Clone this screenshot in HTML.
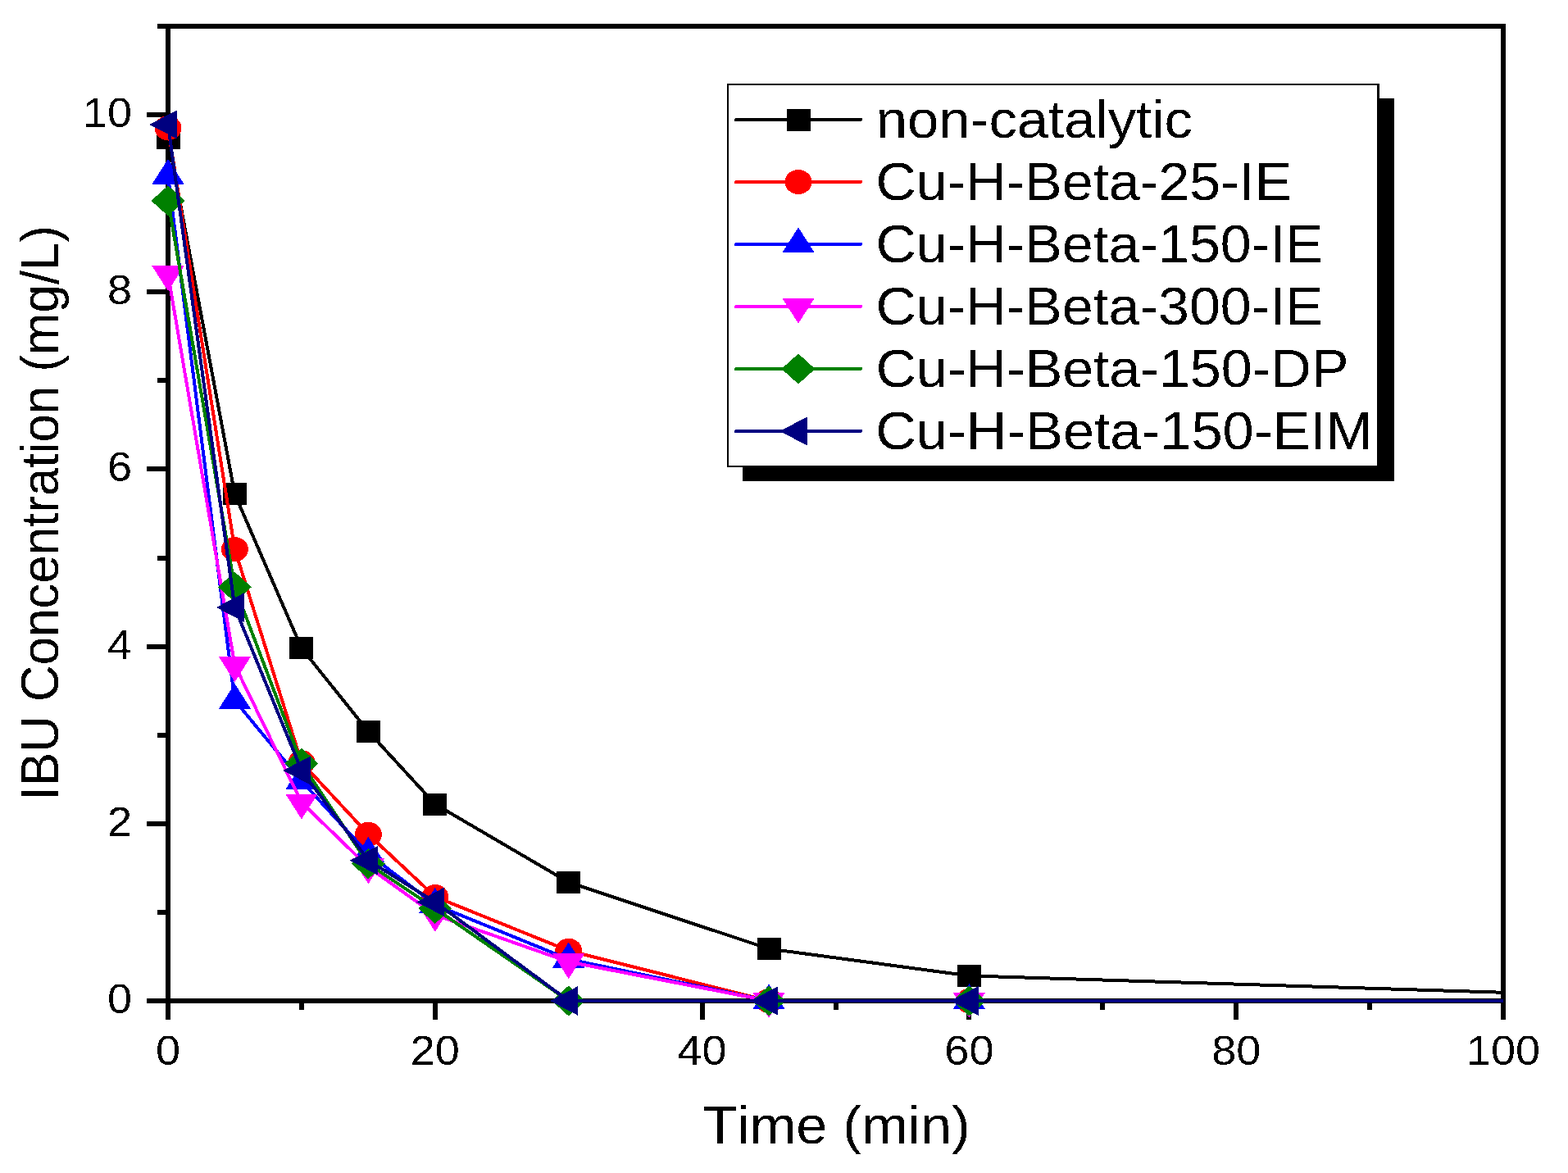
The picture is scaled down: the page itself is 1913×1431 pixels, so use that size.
<!DOCTYPE html><html><head><meta charset="utf-8"><title>IBU Concentration vs Time</title>
<style>html,body{margin:0;padding:0;background:#fff;overflow:hidden}svg{display:block}text{font-family:"Liberation Sans",Arial,sans-serif;fill:#000;font-kerning:none;filter:url(#crisp)}</style></head><body>
<svg width="1913" height="1431" viewBox="0 0 1913 1431" shape-rendering="crispEdges">
<rect width="1913" height="1431" fill="#fff"/>
<defs><filter id="crisp"><feComponentTransfer><feFuncA type="discrete" tableValues="0 1"/></feComponentTransfer></filter><clipPath id="pc"><rect x="0" y="0" width="1834" height="1431"/></clipPath></defs>
<g fill="#000">
<rect x="202" y="29" width="6" height="1215"/>
<rect x="1831" y="29" width="6" height="1215"/>
<rect x="192" y="29" width="1645" height="6"/>
<rect x="179" y="1218" width="1658" height="6"/>
<rect x="179" y="1001.8" width="25" height="6"/>
<rect x="179" y="785.6" width="25" height="6"/>
<rect x="179" y="569.4" width="25" height="6"/>
<rect x="179" y="353.2" width="25" height="6"/>
<rect x="179" y="137.0" width="25" height="6"/>
<rect x="192" y="1109.9" width="12" height="6"/>
<rect x="192" y="893.7" width="12" height="6"/>
<rect x="192" y="677.5" width="12" height="6"/>
<rect x="192" y="461.3" width="12" height="6"/>
<rect x="192" y="245.1" width="12" height="6"/>
<rect x="527.8" y="1220" width="6" height="24"/>
<rect x="853.6" y="1220" width="6" height="24"/>
<rect x="1179.4" y="1220" width="6" height="24"/>
<rect x="1505.2" y="1220" width="6" height="24"/>
<rect x="364.9" y="1220" width="6" height="12"/>
<rect x="690.7" y="1220" width="6" height="12"/>
<rect x="1016.5" y="1220" width="6" height="12"/>
<rect x="1342.3" y="1220" width="6" height="12"/>
<rect x="1668.1" y="1220" width="6" height="12"/>
</g>
<polyline points="205.0,168.1 286.4,602.7 367.9,790.8 449.4,892.4 530.8,981.0 693.7,1076.3 938.0,1157.5 1182.4,1190.4 2159.8,1221.0" fill="none" stroke="#000000" stroke-width="4.0" stroke-linejoin="round" clip-path="url(#pc)"/>
<rect x="190.5" y="154.6" width="29" height="27" fill="#000000"/>
<rect x="271.9" y="589.2" width="29" height="27" fill="#000000"/>
<rect x="353.4" y="777.3" width="29" height="27" fill="#000000"/>
<rect x="434.9" y="878.9" width="29" height="27" fill="#000000"/>
<rect x="516.3" y="967.5" width="29" height="27" fill="#000000"/>
<rect x="679.2" y="1062.8" width="29" height="27" fill="#000000"/>
<rect x="923.5" y="1144.0" width="29" height="27" fill="#000000"/>
<rect x="1167.9" y="1176.9" width="29" height="27" fill="#000000"/>
<polyline points="205.0,156.2 286.4,670.1 367.9,930.2 449.4,1017.8 530.8,1094.0 693.7,1159.8 938.0,1221.0 1182.4,1221.0 2159.8,1221.0" fill="none" stroke="#FF0000" stroke-width="4.0" stroke-linejoin="round" clip-path="url(#pc)"/>
<ellipse cx="205.0" cy="156.2" rx="16.5" ry="15" fill="#FF0000"/>
<ellipse cx="286.4" cy="670.1" rx="16.5" ry="15" fill="#FF0000"/>
<ellipse cx="367.9" cy="930.2" rx="16.5" ry="15" fill="#FF0000"/>
<ellipse cx="449.4" cy="1017.8" rx="16.5" ry="15" fill="#FF0000"/>
<ellipse cx="530.8" cy="1094.0" rx="16.5" ry="15" fill="#FF0000"/>
<ellipse cx="693.7" cy="1159.8" rx="16.5" ry="15" fill="#FF0000"/>
<ellipse cx="938.0" cy="1221.0" rx="16.5" ry="15" fill="#FF0000"/>
<ellipse cx="1182.4" cy="1221.0" rx="16.5" ry="15" fill="#FF0000"/>
<polyline points="205.0,214.6 286.4,854.5 367.9,952.9 449.4,1041.6 530.8,1103.7 693.7,1170.2 938.0,1221.0 1182.4,1221.0 2159.8,1221.0" fill="none" stroke="#0000FF" stroke-width="4.0" stroke-linejoin="round" clip-path="url(#pc)"/>
<polygon points="205.0,193.9 224.7,224.9 185.3,224.9" fill="#0000FF"/>
<polygon points="286.4,833.9 306.1,864.9 266.8,864.9" fill="#0000FF"/>
<polygon points="367.9,932.2 387.6,963.2 348.2,963.2" fill="#0000FF"/>
<polygon points="449.4,1020.9 469.1,1051.9 429.7,1051.9" fill="#0000FF"/>
<polygon points="530.8,1083.0 550.5,1114.0 511.1,1114.0" fill="#0000FF"/>
<polygon points="693.7,1149.5 713.4,1180.5 674.0,1180.5" fill="#0000FF"/>
<polygon points="938.0,1200.3 957.8,1231.3 918.3,1231.3" fill="#0000FF"/>
<polygon points="1182.4,1200.3 1202.1,1231.3 1162.7,1231.3" fill="#0000FF"/>
<polyline points="205.0,334.6 286.4,811.3 367.9,978.9 449.4,1057.8 530.8,1116.1 693.7,1173.4 938.0,1221.0 1182.4,1221.0 2159.8,1221.0" fill="none" stroke="#FF00FF" stroke-width="4.0" stroke-linejoin="round" clip-path="url(#pc)"/>
<polygon points="185.3,324.2 224.7,324.2 205.0,355.2" fill="#FF00FF"/>
<polygon points="266.8,801.0 306.1,801.0 286.4,832.0" fill="#FF00FF"/>
<polygon points="348.2,968.5 387.6,968.5 367.9,999.5" fill="#FF00FF"/>
<polygon points="429.7,1047.4 469.1,1047.4 449.4,1078.4" fill="#FF00FF"/>
<polygon points="511.1,1105.8 550.5,1105.8 530.8,1136.8" fill="#FF00FF"/>
<polygon points="674.0,1163.1 713.4,1163.1 693.7,1194.1" fill="#FF00FF"/>
<polygon points="918.3,1210.7 957.8,1210.7 938.0,1241.7" fill="#FF00FF"/>
<polygon points="1162.7,1210.7 1202.1,1210.7 1182.4,1241.7" fill="#FF00FF"/>
<polyline points="205.0,244.9 286.4,716.2 367.9,931.3 449.4,1053.8 530.8,1108.3 693.7,1221.0 938.0,1221.0 1182.4,1221.0 2159.8,1221.0" fill="none" stroke="#008000" stroke-width="4.0" stroke-linejoin="round" clip-path="url(#pc)"/>
<polygon points="205.0,226.4 225.5,244.9 205.0,263.4 184.5,244.9" fill="#008000"/>
<polygon points="286.4,697.7 306.9,716.2 286.4,734.7 265.9,716.2" fill="#008000"/>
<polygon points="367.9,912.8 388.4,931.3 367.9,949.8 347.4,931.3" fill="#008000"/>
<polygon points="449.4,1035.3 469.9,1053.8 449.4,1072.3 428.9,1053.8" fill="#008000"/>
<polygon points="530.8,1089.8 551.3,1108.3 530.8,1126.8 510.3,1108.3" fill="#008000"/>
<polygon points="693.7,1202.5 714.2,1221.0 693.7,1239.5 673.2,1221.0" fill="#008000"/>
<polygon points="938.0,1202.5 958.5,1221.0 938.0,1239.5 917.5,1221.0" fill="#008000"/>
<polygon points="1182.4,1202.5 1202.9,1221.0 1182.4,1239.5 1161.9,1221.0" fill="#008000"/>
<polyline points="205.0,151.9 286.4,741.0 367.9,939.9 449.4,1049.7 530.8,1100.4 693.7,1221.0 938.0,1221.0 1182.4,1221.0 2159.8,1221.0" fill="none" stroke="#000080" stroke-width="4.0" stroke-linejoin="round" clip-path="url(#pc)"/>
<polygon points="182.3,151.9 216.3,134.1 216.3,169.6" fill="#000080"/>
<polygon points="263.8,741.0 297.8,723.3 297.8,758.8" fill="#000080"/>
<polygon points="345.2,939.9 379.2,922.2 379.2,957.7" fill="#000080"/>
<polygon points="426.7,1049.7 460.7,1031.9 460.7,1067.4" fill="#000080"/>
<polygon points="508.1,1100.4 542.1,1082.6 542.1,1118.1" fill="#000080"/>
<polygon points="671.0,1221.0 705.0,1203.2 705.0,1238.8" fill="#000080"/>
<polygon points="915.4,1221.0 949.4,1203.2 949.4,1238.8" fill="#000080"/>
<polygon points="1159.7,1221.0 1193.7,1203.2 1193.7,1238.8" fill="#000080"/>
<text transform="translate(161.0,1236.0) scale(1.0651,1)" font-size="50.7" text-anchor="end">0</text>
<text transform="translate(161.0,1019.8) scale(1.0651,1)" font-size="50.7" text-anchor="end">2</text>
<text transform="translate(161.0,803.6) scale(1.0651,1)" font-size="50.7" text-anchor="end">4</text>
<text transform="translate(161.0,587.4) scale(1.0651,1)" font-size="50.7" text-anchor="end">6</text>
<text transform="translate(161.0,371.2) scale(1.0651,1)" font-size="50.7" text-anchor="end">8</text>
<text transform="translate(161.0,155.0) scale(1.0651,1)" font-size="50.7" text-anchor="end">10</text>
<text transform="translate(205.0,1298.5) scale(1.0651,1)" font-size="50.7" text-anchor="middle">0</text>
<text transform="translate(530.8,1298.5) scale(1.0651,1)" font-size="50.7" text-anchor="middle">20</text>
<text transform="translate(856.6,1298.5) scale(1.0651,1)" font-size="50.7" text-anchor="middle">40</text>
<text transform="translate(1182.4,1298.5) scale(1.0651,1)" font-size="50.7" text-anchor="middle">60</text>
<text transform="translate(1508.2,1298.5) scale(1.0651,1)" font-size="50.7" text-anchor="middle">80</text>
<text transform="translate(1834.0,1298.5) scale(1.0651,1)" font-size="50.7" text-anchor="middle">100</text>
<text transform="translate(857.7,1394.9) scale(1.050,1)" font-size="65">Time (min)</text>
<text transform="translate(71,976.4) rotate(-90) scale(0.952,1)" font-size="65">IBU Concentration (mg/L)</text>
<rect x="906" y="120" width="795" height="467" fill="#000"/>
<rect x="887" y="102" width="796" height="468" fill="#000"/><rect x="889" y="104" width="791" height="464" fill="#fff"/>
<line x1="898" y1="146" x2="1050" y2="146" stroke="#000000" stroke-width="4" stroke-linecap="round"/>
<rect x="959.5" y="132.5" width="29" height="27" fill="#000000"/>
<text transform="translate(1068.78,167.6) scale(1.0582,1)" font-size="65">non-catalytic</text>
<line x1="898" y1="222" x2="1050" y2="222" stroke="#FF0000" stroke-width="4" stroke-linecap="round"/>
<ellipse cx="974.0" cy="222.0" rx="16.5" ry="15" fill="#FF0000"/>
<text transform="translate(1068.59,243.6) scale(1.0487,1)" font-size="65">Cu-H-Beta-25-IE</text>
<line x1="898" y1="298" x2="1050" y2="298" stroke="#0000FF" stroke-width="4" stroke-linecap="round"/>
<polygon points="974.0,277.3 993.7,308.3 954.3,308.3" fill="#0000FF"/>
<text transform="translate(1068.59,319.6) scale(1.0483,1)" font-size="65">Cu-H-Beta-150-IE</text>
<line x1="898" y1="374" x2="1050" y2="374" stroke="#FF00FF" stroke-width="4" stroke-linecap="round"/>
<polygon points="954.3,363.7 993.7,363.7 974.0,394.7" fill="#FF00FF"/>
<text transform="translate(1068.59,395.6) scale(1.0483,1)" font-size="65">Cu-H-Beta-300-IE</text>
<line x1="898" y1="450" x2="1050" y2="450" stroke="#008000" stroke-width="4" stroke-linecap="round"/>
<polygon points="974.0,431.5 994.5,450.0 974.0,468.5 953.5,450.0" fill="#008000"/>
<text transform="translate(1068.58,471.6) scale(1.0509,1)" font-size="65">Cu-H-Beta-150-DP</text>
<line x1="898" y1="526" x2="1050" y2="526" stroke="#000080" stroke-width="4" stroke-linecap="round"/>
<polygon points="951.3,526.0 985.3,508.2 985.3,543.8" fill="#000080"/>
<text transform="translate(1068.27,547.6) scale(1.0561,1)" font-size="65">Cu-H-Beta-150-EIM</text>
</svg></body></html>
